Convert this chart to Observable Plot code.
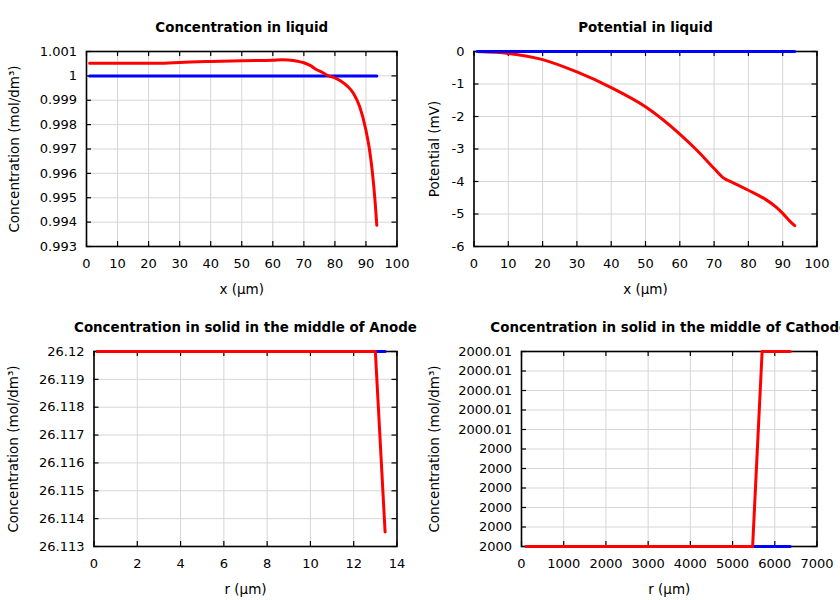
<!DOCTYPE html>
<html><head><meta charset="utf-8">
<script src="https://cdn.jsdelivr.net/npm/d3@7"></script>
<script src="https://cdn.jsdelivr.net/npm/@observablehq/plot@0.6"></script>
<style>
body{margin:0;background:#fff;}
#wrap{position:relative;width:840px;height:600px;overflow:hidden;background:#fff;}
#wrap svg{position:absolute;overflow:visible;}
</style></head><body><div id="wrap"></div>
<script>
// ---- Panel 1: Concentration in liquid ----
const liqX = [1, 10, 20, 25, 30, 40, 50, 60, 63, 65, 68, 70, 72, 74, 76, 78, 80, 82, 84, 86, 88, 90, 91, 92, 93, 93.5];
const liqConcRed = [1.00052, 1.00052, 1.00052, 1.00052, 1.00055, 1.00059, 1.00062, 1.00064, 1.00066, 1.00065, 1.0006, 1.00054, 1.00043, 1.00026, 1.00014, 1.0, 0.99992, 0.99978, 0.99958, 0.99928, 0.99873, 0.99777, 0.99709, 0.99613, 0.99476, 0.99387];
const liqBlueX = [1, 93.5];
const liqConcBlue = [1, 1];
const p1XTicks = [0, 10, 20, 30, 40, 50, 60, 70, 80, 90, 100];
const p1XLabels = ["0", "10", "20", "30", "40", "50", "60", "70", "80", "90", "100"];
const p1YTicks = [0.993, 0.994, 0.995, 0.996, 0.997, 0.998, 0.999, 1.0, 1.001];
const p1YLabels = ["0.993", "0.994", "0.995", "0.996", "0.997", "0.998", "0.999", "1", "1.001"];

// ---- Panel 2: Potential in liquid ----
const potX = [1, 10, 20, 30, 40, 50, 60, 65, 70, 73, 75, 80, 85, 88, 90, 92, 93.5];
const potRed = [0, -0.06, -0.25, -0.63, -1.11, -1.70, -2.54, -3.04, -3.6, -3.91, -4.01, -4.27, -4.55, -4.78, -4.98, -5.21, -5.36];
const potBlueX = [1, 93.5];
const potBlue = [0, 0];
const p2YTicks = [-6, -5, -4, -3, -2, -1, 0];
const p2YLabels = ["-6", "-5", "-4", "-3", "-2", "-1", "0"];

// ---- Panel 3: Concentration in solid, Anode ----
const anodeRedX = [0.16, 13.0, 13.45];
const anodeRed = [26.12, 26.12, 26.11352];
const anodeBlueX = [0.16, 13.45];
const anodeBlue = [26.12, 26.12];
const p3XTicks = [0, 2, 4, 6, 8, 10, 12, 14];
const p3XLabels = ["0", "2", "4", "6", "8", "10", "12", "14"];
const p3YTicks = [26.113, 26.114, 26.115, 26.116, 26.117, 26.118, 26.119, 26.12];
const p3YLabels = ["26.113", "26.114", "26.115", "26.116", "26.117", "26.118", "26.119", "26.12"];

// ---- Panel 4: Concentration in solid, Cathode ----
const cathRedX = [120, 5475, 5700, 6365];
const cathRed = [2000, 2000, 2000.01, 2000.01];
const cathBlueX = [120, 6365];
const cathBlue = [2000, 2000];
const p4XTicks = [0, 1000, 2000, 3000, 4000, 5000, 6000, 7000];
const p4XLabels = ["0", "1000", "2000", "3000", "4000", "5000", "6000", "7000"];
const p4YTicks = [2000, 2000.001, 2000.002, 2000.003, 2000.004, 2000.005, 2000.006, 2000.007, 2000.008, 2000.009, 2000.01];
const p4YLabels = ["2000", "2000", "2000", "2000", "2000", "2000", "2000.01", "2000.01", "2000.01", "2000.01", "2000.01"];

const zipXY = (xs, ys) => xs.map((x, i) => ({x, y: ys[i]}));
const ticks = (vs, ls) => vs.map((v, i) => ({v, label: ls[i]}));

function panel(o) {
  const W = 420, H = 300, mT = 51, mB = 54;
  const fw = W - o.mL - o.mR, fh = H - mT - mB;
  const xt = ticks(o.xTicks, o.xLabels), yt = ticks(o.yTicks, o.yLabels);
  const lineMarks = o.series.map(s => Plot.line(s.data, {x: "x", y: "y", stroke: s.color, strokeWidth: 3, curve: s.curve || "linear"}));
  const svg = Plot.plot({
    width: W, height: H, marginLeft: o.mL, marginRight: o.mR, marginTop: mT, marginBottom: mB,
    style: {fontFamily: "DejaVu Sans", fontSize: "13px", color: "black", background: "white", overflow: "visible"},
    x: {domain: o.xDomain, axis: null},
    y: {domain: o.yDomain, axis: null},
    marks: [
      Plot.ruleX(o.xTicks, {x: d => d, stroke: "#d6d6d6", strokeWidth: 1}),
      Plot.ruleY(o.yTicks, {y: d => d, stroke: "#d6d6d6", strokeWidth: 1}),
      Plot.tickX(o.xTicks, {x: d => d, insetTop: fh - 5, stroke: "black", strokeWidth: 1.2}),
      Plot.tickX(o.xTicks, {x: d => d, insetBottom: fh - 5, stroke: "black", strokeWidth: 1.2}),
      Plot.tickY(o.yTicks, {y: d => d, insetRight: fw - 5, stroke: "black", strokeWidth: 1.2}),
      Plot.tickY(o.yTicks, {y: d => d, insetLeft: fw - 5, stroke: "black", strokeWidth: 1.2}),
      Plot.frame({stroke: "black", strokeWidth: 1.6}),
      ...lineMarks,
      Plot.text(xt, {x: "v", text: "label", frameAnchor: "bottom", lineAnchor: "middle", textAnchor: "middle", dy: 17, fill: "black"}),
      Plot.text(yt, {y: "v", text: "label", frameAnchor: "left", lineAnchor: "middle", textAnchor: "end", dx: -9.5, fill: "black"}),
      Plot.text([o.xLabel], {text: d => d, frameAnchor: "bottom", lineAnchor: "middle", textAnchor: "middle", dy: 43, fontSize: 13.5, fill: "black"}),
      Plot.text([o.yLabel], {text: d => d, frameAnchor: "left", lineAnchor: "middle", textAnchor: "middle", dx: -o.yLabelOff, rotate: -90, fontSize: 13.5, fill: "black"}),
      Plot.text([o.title], {text: d => d, frameAnchor: "top", lineAnchor: "middle", textAnchor: "middle", dy: -24, fontWeight: "bold", fontSize: 13.4, fill: "black"})
    ]
  });
  svg.style.left = o.left + "px";
  svg.style.top = o.top + "px";
  document.getElementById("wrap").appendChild(svg);
}

const concLabel = "Concentration (mol/dm³)";

panel({
  left: 0, top: 0, mL: 86, mR: 23.5,
  xDomain: [0, 100], xTicks: p1XTicks, xLabels: p1XLabels,
  yDomain: [0.993, 1.001], yTicks: p1YTicks, yLabels: p1YLabels,
  title: "Concentration in liquid", xLabel: "x (µm)", yLabel: concLabel, yLabelOff: 72,
  series: [
    {data: zipXY(liqBlueX, liqConcBlue), color: "blue"},
    {data: zipXY(liqX, liqConcRed), color: "red", curve: "monotone-x"}
  ]
});

panel({
  left: 420, top: 0, mL: 53.5, mR: 23.5,
  xDomain: [0, 100], xTicks: p1XTicks, xLabels: p1XLabels,
  yDomain: [-6, 0], yTicks: p2YTicks, yLabels: p2YLabels,
  title: "Potential in liquid", xLabel: "x (µm)", yLabel: "Potential (mV)", yLabelOff: 39,
  series: [
    {data: zipXY(potX, potRed), color: "red", curve: "monotone-x"},
    {data: zipXY(potBlueX, potBlue), color: "blue"}
  ]
});

panel({
  left: 0, top: 300, mL: 93.5, mR: 23.5,
  xDomain: [0, 14], xTicks: p3XTicks, xLabels: p3XLabels,
  yDomain: [26.113, 26.12], yTicks: p3YTicks, yLabels: p3YLabels,
  title: "Concentration in solid in the middle of Anode", xLabel: "r (µm)", yLabel: concLabel, yLabelOff: 80,
  series: [
    {data: zipXY(anodeBlueX, anodeBlue), color: "blue"},
    {data: zipXY(anodeRedX, anodeRed), color: "red"}
  ]
});

panel({
  left: 420, top: 300, mL: 101, mR: 23.5,
  xDomain: [0, 7000], xTicks: p4XTicks, xLabels: p4XLabels,
  yDomain: [2000, 2000.01], yTicks: p4YTicks, yLabels: p4YLabels,
  title: "Concentration in solid in the middle of Cathode", xLabel: "r (µm)", yLabel: concLabel, yLabelOff: 87,
  series: [
    {data: zipXY(cathBlueX, cathBlue), color: "blue"},
    {data: zipXY(cathRedX, cathRed), color: "red"}
  ]
});
</script>
</body></html>
